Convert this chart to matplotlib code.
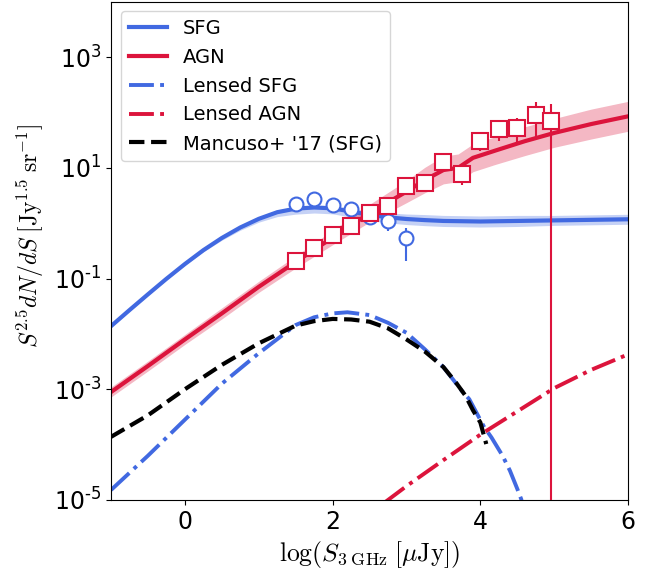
import numpy as np
import matplotlib
matplotlib.use("Agg")
import matplotlib.pyplot as plt
from matplotlib.ticker import FixedLocator, FixedFormatter, NullLocator

plt.rcParams['mathtext.fontset'] = 'cm'

# model curves, values read as log10 of S^2.5 dN/dS
sfg_x = [-1, -0.75, -0.5, -0.25, 0, 0.25, 0.5, 0.75, 1.0, 1.25, 1.5, 1.75, 2.0,
         2.25, 2.5, 2.75, 3.0, 3.25, 3.5, 4.0, 4.5, 5.0, 5.5, 6.0]
sfg_log = [-1.86, -1.57, -1.285, -1.005, -0.738, -0.488, -0.268, -0.078, 0.078,
           0.198, 0.263, 0.283, 0.268, 0.21, 0.15, 0.105, 0.075, 0.055, 0.04,
           0.03, 0.04, 0.05, 0.06, 0.07]
sfg_band_lo = [0.02, 0.02, 0.02, 0.02, 0.02, 0.03, 0.04, 0.05, 0.06, 0.08, 0.1, 0.1,
               0.1, 0.1, 0.1, 0.1, 0.1, 0.1, 0.1, 0.1, 0.1, 0.09, 0.09, 0.09]
sfg_band_hi = [0.01, 0.01, 0.01, 0.01, 0.01, 0.01, 0.02, 0.02, 0.02, 0.03, 0.03, 0.04,
               0.05, 0.06, 0.07, 0.08, 0.09, 0.1, 0.1, 0.1, 0.1, 0.09, 0.09, 0.09]

agn_x = [-1, -0.5, 0, 0.5, 1.0, 1.5, 2.0, 2.5, 3.0, 3.25, 3.5, 3.7, 3.9, 4.2, 4.6,
         5.0, 5.5, 6.0]
agn_log = [-3.05, -2.58, -2.1, -1.63, -1.15, -0.70, -0.26, 0.18, 0.57, 0.78, 0.96,
           1.0, 1.18, 1.31, 1.48, 1.63, 1.79, 1.93]
agn_band = [0.09, 0.09, 0.09, 0.1, 0.1, 0.11, 0.13, 0.16, 0.2, 0.23, 0.25, 0.25,
            0.25, 0.25, 0.26, 0.26, 0.27, 0.27]

lsfg_x = [-1, -0.5, 0, 0.5, 1.0, 1.5, 1.75, 2.0, 2.2, 2.5, 2.75, 3.0, 3.25, 3.5,
          3.75, 3.85, 3.95, 4.05, 4.15, 4.3, 4.4, 4.5, 4.6]
lsfg_log = [-4.82, -4.2, -3.55, -2.9, -2.35, -1.84, -1.70, -1.63, -1.61, -1.66,
            -1.8, -1.98, -2.28, -2.6, -3.03, -3.18, -3.43, -3.68, -3.87, -4.2,
            -4.47, -4.8, -5.15]

lagn_x = [2.7, 3.0, 3.5, 4.0, 4.5, 5.0, 5.5, 6.0]
lagn_log = [-5.05, -4.75, -4.28, -3.82, -3.4, -2.98, -2.65, -2.37]

manc_x = [-1, -0.5, 0, 0.5, 1.0, 1.5, 1.75, 2.0, 2.25, 2.5, 2.75, 3.0, 3.25, 3.5,
          3.67, 3.8, 3.9, 4.0, 4.08]
manc_log = [-3.86, -3.47, -3.0, -2.56, -2.17, -1.85, -1.77, -1.73, -1.74, -1.78,
            -1.9, -2.1, -2.32, -2.6, -2.88, -3.12, -3.38, -3.6, -3.99]

# data points (log10 value, lower / upper error in dex)
sfg_pts_x = [1.5, 1.75, 2.0, 2.25, 2.5, 2.75, 3.0]
sfg_pts_log = [0.35, 0.44, 0.32, 0.26, 0.11, 0.03, -0.27]
sfg_pts_elo = [0.08, 0.08, 0.08, 0.08, 0.1, 0.18, 0.41]
sfg_pts_ehi = [0.06, 0.06, 0.06, 0.06, 0.08, 0.1, 0.18]

agn_pts_x = [1.5, 1.75, 2.0, 2.25, 2.5, 2.75, 3.0, 3.25, 3.5, 3.75, 4.0, 4.25, 4.5,
             4.75, 4.95]
agn_pts_log = [-0.69, -0.44, -0.21, -0.05, 0.19, 0.31, 0.68, 0.73, 1.11, 0.89, 1.49,
               1.70, 1.72, 1.96, 1.85]
agn_pts_elo = [0.08, 0.08, 0.08, 0.08, 0.08, 0.08, 0.1, 0.1, 0.1, 0.2, 0.18, 0.22,
               0.25, 0.41, 9.0]
agn_pts_ehi = [0.06, 0.06, 0.06, 0.06, 0.06, 0.06, 0.08, 0.08, 0.1, 0.1, 0.1, 0.13,
               0.18, 0.22, 0.31]

ytick_vals = [1e-5, 1e-3, 1e-1, 1e1, 1e3]
ytick_labels = [r'$\mathdefault{10^{\text{-}5}}$', r'$\mathdefault{10^{\text{-}3}}$',
                r'$\mathdefault{10^{\text{-}1}}$', r'$\mathdefault{10^{1}}$',
                r'$\mathdefault{10^{3}}$']

blue = 'royalblue'
red = 'crimson'

fig = plt.figure(figsize=(6.57, 5.74), dpi=100)
ax = fig.add_axes([0.169, 0.129, 0.787, 0.868])

def lin(v):
    return 10 ** np.array(v)

ax.fill_between(sfg_x, lin(np.array(sfg_log) - sfg_band_lo),
                lin(np.array(sfg_log) + sfg_band_hi), color=blue, alpha=0.3, lw=0)
ax.fill_between(agn_x, lin(np.array(agn_log) - agn_band),
                lin(np.array(agn_log) + agn_band), color=red, alpha=0.3, lw=0)

ax.plot(sfg_x, lin(sfg_log), color=blue, lw=3, label='SFG')
ax.plot(agn_x, lin(agn_log), color=red, lw=3, label='AGN')
ax.plot(lsfg_x, lin(lsfg_log), color=blue, lw=2.8, ls='-.', label='Lensed SFG')
ax.plot(lagn_x, lin(lagn_log), color=red, lw=2.8, ls='-.', label='Lensed AGN')
ax.plot(manc_x, lin(manc_log), color='black', lw=3, ls='--', label="Mancuso+ '17 (SFG)")

def errs(logv, elo, ehi):
    y = lin(logv)
    lo = y - lin(np.array(logv) - elo)
    hi = lin(np.array(logv) + ehi) - y
    return y, [lo, hi]

y, e = errs(sfg_pts_log, sfg_pts_elo, sfg_pts_ehi)
ax.errorbar(sfg_pts_x, y, yerr=e, fmt='o', ms=10, mfc='white', mec=blue, mew=1.5,
            ecolor=blue, elinewidth=1.5, zorder=5)
y, e = errs(agn_pts_log, agn_pts_elo, agn_pts_ehi)
ax.errorbar(agn_pts_x, y, yerr=e, fmt='s', ms=11, mfc='white', mec=red, mew=1.5,
            ecolor=red, elinewidth=1.5, zorder=6)

ax.set_yscale('log')
ax.set_xlim(-1, 6)
ax.set_ylim(1e-5, 1e4)

ax.yaxis.set_major_locator(FixedLocator(ytick_vals))
ax.yaxis.set_major_formatter(FixedFormatter(ytick_labels))
ax.yaxis.set_minor_locator(NullLocator())
ax.set_xticks([0, 2, 4, 6])
ax.tick_params(labelsize=17)
for t in ax.get_yticklabels():
    t.set_math_fontfamily('dejavusans')

ax.set_xlabel(r'$\log(S_{3\;\mathrm{GHz}}\;[\mu\mathrm{Jy}])$', fontsize=18.5)
ax.set_ylabel(r'$S^{2.5}dN/dS\;[\mathrm{Jy}^{1.5}\;\mathrm{sr}^{-1}]$', fontsize=17)
ax.yaxis.set_label_coords(-0.125, 0.53)

ax.legend(loc='upper left', fontsize=14)

fig.savefig('out.png', dpi=100)
